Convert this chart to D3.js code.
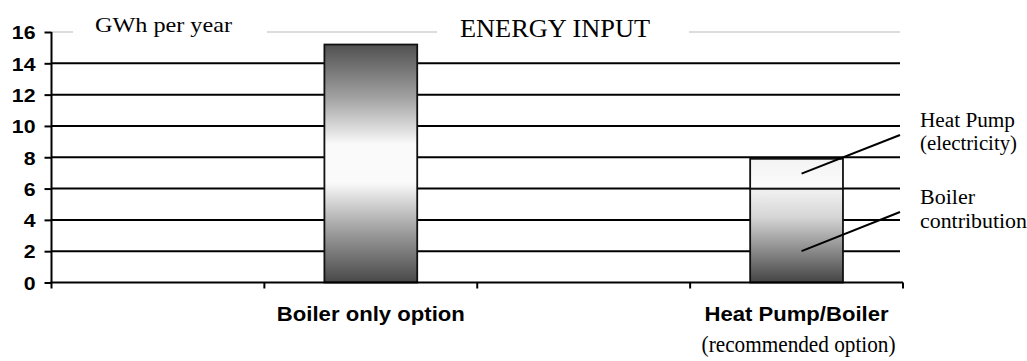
<!DOCTYPE html>
<html>
<head>
<meta charset="utf-8">
<script src="https://cdn.jsdelivr.net/npm/d3@7"></script>
<style>
  html, body { margin: 0; padding: 0; background: #fff; }
  svg { display: block; }
</style>
</head>
<body>
<svg id="chart" width="1027" height="361"></svg>
<script>
// ---- data ----
const categoryLabels = ["", "Boiler only option", "", "Heat Pump/Boiler"];
const subLabels = ["", "", "", "(recommended option)"];
const boilerValues = [0, 15.2, 0, 6.0];
const heatPumpValues = [0, 0, 0, 1.9];
const yTicks = [0, 2, 4, 6, 8, 10, 12, 14, 16];
const titleText = "ENERGY INPUT";
const unitText = "GWh per year";
const heatPumpLabel = ["Heat Pump", "(electricity)"];
const boilerLabel = ["Boiler", "contribution"];

// ---- layout ----
const svg = d3.select("#chart");
const plotLeft = 51.5, plotRight = 903, plotTop = 32, plotBottom = 282.5;

const x = d3.scaleBand().domain(d3.range(categoryLabels.length)).range([plotLeft, plotRight]).padding(0);
const y = d3.scaleLinear().domain([0, 16]).range([plotBottom, plotTop]);
const barW = x.bandwidth() * 0.436;

const defs = svg.append("defs");
function vGrad(id, stops) {
  const g = defs.append("linearGradient").attr("id", id)
    .attr("x1", 0).attr("y1", 0).attr("x2", 0).attr("y2", 1);
  stops.forEach(s => g.append("stop").attr("offset", s[0]).attr("stop-color", s[1]));
}
vGrad("gBoilerOnly", [[0, "#505050"], [0.22, "#a0a0a0"], [0.42, "#fafafa"], [0.58, "#fafafa"], [0.78, "#a0a0a0"], [1, "#484848"]]);
vGrad("gBoilerPart", [[0, "#f2f2f2"], [0.3, "#d6d6d6"], [1, "#444444"]]);
vGrad("gHeatPump", [[0, "#f3f3f3"], [1, "#fcfcfc"]]);

// top light border (plot area top), interrupted by the title boxes
const topLine = svg.append("g");
[[plotLeft, 73], [267, 437], [689, 900]].forEach(([a, b]) => {
  topLine.append("line").attr("x1", a).attr("x2", b).attr("y1", y(16)).attr("y2", y(16))
    .attr("stroke", "#dcdcdc").attr("stroke-width", 2);
});

// gridlines
svg.append("g").selectAll("line").data(yTicks.filter(d => d > 0 && d < 16)).join("line")
  .attr("x1", plotLeft).attr("x2", 900)
  .attr("y1", d => y(d)).attr("y2", d => y(d))
  .attr("stroke", "#000").attr("stroke-width", 2);

// bars
const bars = svg.append("g");
categoryLabels.forEach((c, i) => {
  const cx = x(i) + x.bandwidth() / 2;
  const b = boilerValues[i], h = heatPumpValues[i];
  if (b > 0) {
    bars.append("rect")
      .attr("x", cx - barW / 2).attr("width", barW)
      .attr("y", y(b)).attr("height", y(0) - y(b))
      .attr("fill", h > 0 ? "url(#gBoilerPart)" : "url(#gBoilerOnly)")
      .attr("stroke", "#111").attr("stroke-width", 1.8);
  }
  if (h > 0) {
    bars.append("rect")
      .attr("x", cx - barW / 2).attr("width", barW)
      .attr("y", y(b + h)).attr("height", y(b) - y(b + h))
      .attr("fill", "url(#gHeatPump)")
      .attr("stroke", "#111").attr("stroke-width", 1.8);
  }
});

// y axis
const yAxis = svg.append("g").attr("transform", `translate(${plotLeft},0)`)
  .call(d3.axisLeft(y).tickValues(yTicks).tickSize(7).tickPadding(0).tickFormat(d3.format("d")));
yAxis.select(".domain").attr("stroke", "#000").attr("stroke-width", 2).attr("d", `M0,${y(16)}V${y(0)}`);
yAxis.selectAll(".tick line").attr("stroke", "#000").attr("stroke-width", 2);
yAxis.selectAll(".tick text")
  .attr("x", null).attr("dy", null)
  .attr("transform", "translate(-16,6.8) scale(1.12,1)")
  .attr("text-anchor", "end")
  .style("font-family", "'Liberation Sans', Arial, sans-serif")
  .style("font-weight", "bold").style("font-size", "19px").attr("fill", "#000");

// x axis
const xg = svg.append("g");
xg.append("line").attr("x1", plotLeft - 1).attr("x2", plotRight).attr("y1", plotBottom).attr("y2", plotBottom)
  .attr("stroke", "#000").attr("stroke-width", 2);
const boundaries = d3.range(categoryLabels.length + 1).map(i => i < categoryLabels.length ? x(i) : x(i - 1) + x.bandwidth());
xg.selectAll("line.tk").data(boundaries).join("line").attr("class", "tk")
  .attr("x1", d => d).attr("x2", d => d).attr("y1", plotBottom).attr("y2", plotBottom + 6)
  .attr("stroke", "#000").attr("stroke-width", 2);

const xAxis = svg.append("g").attr("transform", `translate(0,${plotBottom})`)
  .call(d3.axisBottom(x).tickSize(0).tickFormat(i => categoryLabels[i]));
xAxis.select(".domain").remove();
xAxis.selectAll(".tick text")
  .attr("y", 38).attr("dy", null)
  .style("font-family", "'Liberation Sans', Arial, sans-serif")
  .style("font-weight", "bold").style("font-size", "21px").attr("fill", "#000")
  .each(function (i) { if (categoryLabels[i]) d3.select(this).attr("textLength", i === 1 ? 188 : 184).attr("lengthAdjust", "spacingAndGlyphs"); });

const serif = "'Liberation Serif', 'Times New Roman', serif";
svg.append("g").selectAll("text").data(d3.range(subLabels.length).filter(i => subLabels[i])).join("text")
  .attr("x", i => x(i) + x.bandwidth() / 2 + 2).attr("y", 352)
  .attr("text-anchor", "middle")
  .style("font-family", serif).style("font-size", "23px")
  .attr("textLength", 194).attr("lengthAdjust", "spacingAndGlyphs")
  .text(i => subLabels[i]);

// titles
svg.append("text").attr("x", 95).attr("y", 32)
  .style("font-family", serif).style("font-size", "21px")
  .attr("textLength", 137).attr("lengthAdjust", "spacingAndGlyphs").text(unitText);
svg.append("text").attr("x", 460).attr("y", 37)
  .style("font-family", serif).style("font-size", "25px")
  .attr("textLength", 190).attr("lengthAdjust", "spacingAndGlyphs").text(titleText);

// annotations
const hpCx = x(3) + x.bandwidth() / 2 + 5;
const ann = svg.append("g");
ann.append("line").attr("x1", hpCx).attr("y1", y(6.95)).attr("x2", 900).attr("y2", y(9.42))
  .attr("stroke", "#000").attr("stroke-width", 2);
ann.append("line").attr("x1", hpCx).attr("y1", y(2.0)).attr("x2", 900).attr("y2", y(4.5))
  .attr("stroke", "#000").attr("stroke-width", 2);

const labelRows = [
  [heatPumpLabel[0], 127, 95], [heatPumpLabel[1], 150, 97],
  [boilerLabel[0], 204, 55], [boilerLabel[1], 228, 107]
];
ann.selectAll("text").data(labelRows).join("text")
  .attr("x", 920).attr("y", d => d[1])
  .style("font-family", serif).style("font-size", "20px")
  .attr("textLength", d => d[2]).attr("lengthAdjust", "spacingAndGlyphs")
  .text(d => d[0]);
</script>
</body>
</html>
